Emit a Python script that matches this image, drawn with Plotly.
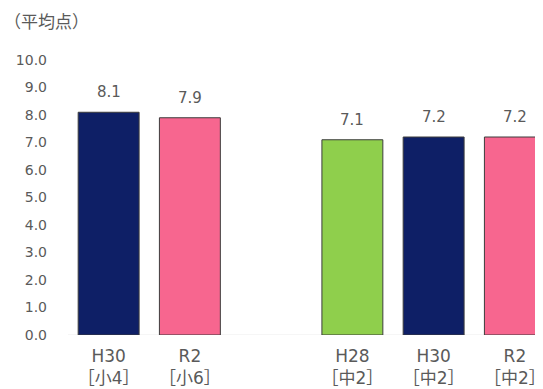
import plotly.graph_objects as go

categories = ["H30<br>［小4］", "R2<br>［小6］", " ", "H28<br>［中2］", "H30<br>［中2］", "R2<br>［中2］"]
values = [8.1, 7.9, None, 7.1, 7.2, 7.2]
colors = ["#0E1F66", "#F7668F", "rgba(0,0,0,0)", "#8FCF4C", "#0E1F66", "#F7668F"]
y_ticks = [0, 1, 2, 3, 4, 5, 6, 7, 8, 9, 10]
y_title = "（平均点）"

FONT = "DejaVu Sans, Noto Sans CJK JP"
CJK = "Noto Sans CJK JP"
GRAY = "#5a5a5a"

# page body has an 8px margin: figure starts at page (8, 8)
PLOT_H = 389 - 60 - 53.5
PLOT_W = 543 - 68

fig = go.Figure()
fig.add_trace(go.Bar(
    x=categories, y=values,
    marker=dict(color=colors, line=dict(color="#3d3d3d", width=1)),
    hoverinfo="skip",
))

annotations = []
for c, v in zip(categories, values):
    if v is None:
        continue
    annotations.append(dict(x=c, y=v, xref="x", yref="y", text=f"{v:.1f}",
                            showarrow=False, yanchor="middle", yshift=20,
                            font=dict(family=FONT, size=15, color=GRAY)))
annotations.append(dict(x=-66 / PLOT_W, y=1 + 40 / PLOT_H, xref="paper", yref="paper",
                        xanchor="left", yanchor="middle", text=y_title, showarrow=False,
                        font=dict(family=CJK, size=17, color=GRAY)))

fig.update_layout(
    width=535, height=381,
    margin=dict(l=60, r=0, t=52, b=53.5),
    paper_bgcolor="white", plot_bgcolor="white",
    bargap=0.25,
    showlegend=False,
    annotations=annotations,
    xaxis=dict(type="category", categoryorder="array", categoryarray=categories,
               range=[-0.5, 5.346], showgrid=False, zeroline=False, showline=False,
               ticks="", automargin=False, ticklabelstandoff=9,
               tickfont=dict(family=FONT, size=17, color=GRAY)),
    yaxis=dict(range=[0, 10], tickvals=y_ticks, ticktext=[f"{t:.1f}" for t in y_ticks],
               showgrid=False, zeroline=False, showline=False, ticks="", automargin=False,
               ticklabelstandoff=20,
               tickfont=dict(family=FONT, size=14, color=GRAY)),
)
fig.add_shape(type="line", xref="paper", yref="y", x0=0, x1=1, y0=0, y1=0,
              line=dict(color="#ececec", width=1), layer="below")

fig.write_html("out.html")
